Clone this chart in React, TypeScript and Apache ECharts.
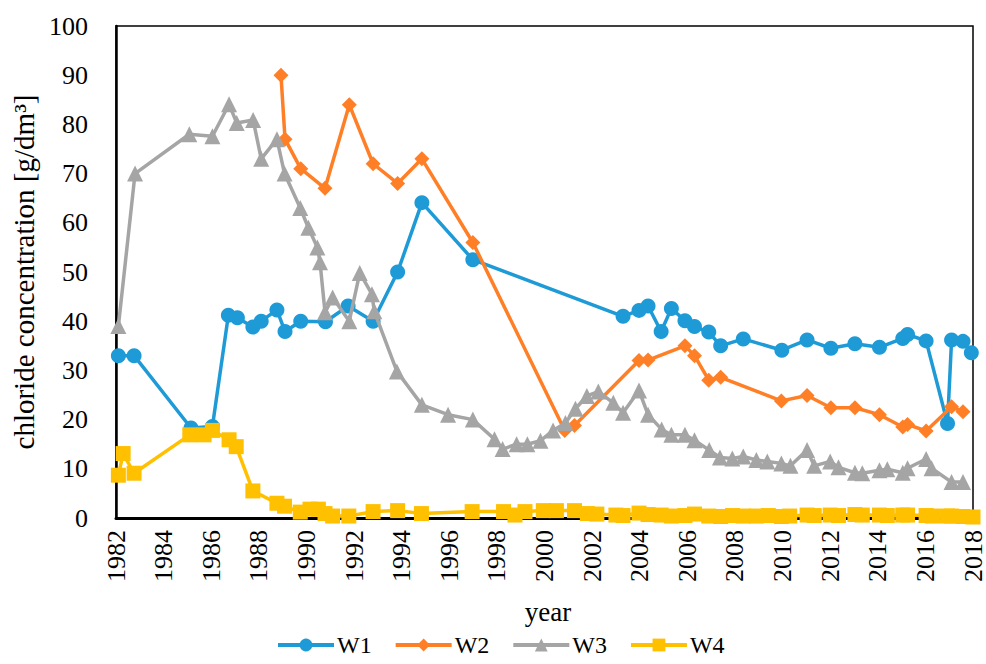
import React, { useEffect, useRef } from "react";
import * as echarts from "echarts";

const w1Years = [1982.1, 1982.76, 1985.15, 1986.05, 1986.72, 1987.1, 1987.75, 1988.1, 1988.76, 1989.1, 1989.76, 1990.8, 1991.75, 1992.8, 1993.83, 1994.85, 1996.99, 2003.3, 2003.97, 2004.35, 2004.9, 2005.33, 2005.9, 2006.3, 2006.9, 2007.4, 2008.35, 2009.97, 2011.03, 2012.03, 2013.04, 2014.07, 2015.05, 2015.25, 2016.03, 2016.93, 2017.1, 2017.58, 2017.93];
const w1Values = [33, 33, 18.3, 18.6, 41.2, 40.7, 38.8, 40, 42.3, 37.9, 40, 39.9, 43.1, 40, 50, 64.1, 52.5, 41, 42.2, 43.1, 37.9, 42.6, 40.1, 38.9, 37.8, 35, 36.4, 34.1, 36.2, 34.5, 35.4, 34.7, 36.5, 37.3, 36, 19.2, 36.2, 35.9, 33.6];

const w2Years = [1988.93, 1989.1, 1989.76, 1990.78, 1991.8, 1992.8, 1993.83, 1994.85, 1996.99, 2000.85, 2001.26, 2003.97, 2004.35, 2005.9, 2006.3, 2006.9, 2007.4, 2009.95, 2011.03, 2012.03, 2013.04, 2014.07, 2015.05, 2015.25, 2016.03, 2017.1, 2017.58];
const w2Values = [90, 77, 71, 67, 84, 72, 68, 73, 56, 17.8, 18.8, 32, 32.1, 35, 33, 28, 28.6, 23.8, 24.9, 22.4, 22.4, 21, 18.5, 19, 17.7, 22.6, 21.6];

const w3Years = [1982.1, 1982.8, 1985.08, 1986.05, 1986.75, 1987.07, 1987.76, 1988.1, 1988.76, 1989.08, 1989.74, 1990.08, 1990.46, 1990.57, 1990.78, 1991.1, 1991.8, 1992.24, 1992.75, 1992.85, 1993.8, 1994.85, 1995.95, 1996.99, 1997.9, 1998.24, 1998.83, 1999.28, 1999.83, 2000.36, 2000.88, 2001.3, 2001.78, 2002.26, 2002.89, 2003.3, 2003.97, 2004.35, 2004.92, 2005.33, 2005.9, 2006.3, 2006.92, 2007.37, 2007.89, 2008.35, 2008.9, 2009.36, 2009.95, 2010.33, 2011.03, 2011.33, 2012.0, 2012.35, 2013.04, 2013.35, 2014.07, 2014.4, 2015.05, 2015.25, 2016.03, 2016.26, 2017.1, 2017.58];
const w3Values = [39, 70, 78, 77.6, 84.1, 80.3, 80.9, 73, 77, 70, 63, 59, 55, 52, 41.8, 44.8, 40, 49.8, 45.5, 42, 29.8, 23, 21, 20, 16, 14, 15, 15, 15.7, 17.8, 19.3, 22.2, 24.8, 25.7, 23.4, 21.4, 25.9, 21, 18, 16.9, 16.9, 15.8, 13.8, 12.3, 12.1, 12.5, 11.8, 11.5, 11.1, 10.6, 13.8, 10.6, 11.5, 10.3, 9.2, 9.1, 9.7, 9.9, 9.2, 10.1, 12, 10.1, 7.3, 7.3];

const w4Years = [1982.1, 1982.3, 1982.76, 1985.1, 1985.7, 1986.05, 1986.75, 1987.05, 1987.75, 1988.76, 1989.08, 1989.74, 1990.15, 1990.5, 1990.78, 1991.1, 1991.78, 1992.8, 1993.83, 1994.83, 1996.96, 1998.28, 1998.76, 1999.18, 1999.95, 2000.5, 2001.26, 2001.8, 2002.2, 2003.0, 2003.3, 2003.97, 2004.35, 2004.9, 2005.33, 2005.9, 2006.3, 2006.9, 2007.4, 2007.9, 2008.35, 2008.9, 2009.4, 2009.95, 2010.3, 2011.03, 2011.33, 2012.0, 2012.35, 2013.04, 2013.35, 2014.07, 2014.4, 2015.05, 2015.25, 2016.03, 2016.3, 2016.93, 2017.1, 2017.58, 2018.0];
const w4Values = [8.7, 13.1, 9.1, 16.9, 16.9, 17.8, 15.9, 14.5, 5.5, 3, 2.4, 1.2, 1.8, 1.8, 0.9, 0.4, 0.4, 1.3, 1.5, 0.9, 1.3, 1.3, 0.6, 1.3, 1.5, 1.5, 1.5, 0.9, 0.8, 0.6, 0.5, 1.0, 0.7, 0.6, 0.4, 0.5, 0.8, 0.4, 0.3, 0.5, 0.4, 0.4, 0.5, 0.3, 0.4, 0.6, 0.5, 0.6, 0.5, 0.7, 0.6, 0.6, 0.5, 0.6, 0.6, 0.5, 0.4, 0.4, 0.4, 0.3, 0.2];

const yearTicks = { min: 1982, max: 2018, interval: 2 };
const valueTicks = { min: 0, max: 100, interval: 10 };

const seriesNames = ["W1", "W2", "W3", "W4"];
const seriesColors = ["#1E9BD7", "#FF7F27", "#A5A5A5", "#FFC000"];
const seriesSymbols = ["circle", "diamond", "triangle", "rect"];
const seriesSymbolSizes = [15, 15, 16, 15];

const FONT = "'Liberation Serif', 'Times New Roman', serif";

function pairs(xs: number[], ys: number[]) {
  return xs.map((x, i) => [x, ys[i]]);
}

export default function App() {
  const ref = useRef<HTMLDivElement>(null);
  useEffect(() => {
    if (!ref.current) return;
    const chart = echarts.init(ref.current, undefined, { renderer: "svg" });
    const datasets = [
      pairs(w1Years, w1Values),
      pairs(w2Years, w2Values),
      pairs(w3Years, w3Values),
      pairs(w4Years, w4Values),
    ];
    chart.setOption({
      animation: false,
      backgroundColor: "#ffffff",
      grid: {
        left: 116,
        top: 26,
        width: 864,
        height: 492,
        show: true,
        borderColor: "#000",
        borderWidth: 1.5,
        containLabel: false,
      },
      legend: {
        left: 276,
        top: 633,
        padding: 0,
        itemWidth: 56,
        itemHeight: 16,
        itemGap: 22,
        lineStyle: { width: 4 },
        textStyle: { fontFamily: FONT, fontSize: 24, color: "#000", padding: [0, 0, 0, -2] },
        data: seriesNames,
      },
      xAxis: {
        type: "value",
        min: yearTicks.min,
        max: yearTicks.max,
        interval: yearTicks.interval,
        splitLine: { show: false },
        axisTick: { show: false },
        axisLine: { show: true, lineStyle: { color: "#000", width: 3 } },
        axisLabel: {
          rotate: 90,
          margin: 12,
          fontFamily: FONT,
          fontSize: 26,
          color: "#000",
          formatter: (v: number) => String(v),
        },
      },
      yAxis: {
        type: "value",
        min: valueTicks.min,
        max: valueTicks.max,
        interval: valueTicks.interval,
        splitLine: { show: false },
        axisTick: { show: false },
        axisLine: { show: true, lineStyle: { color: "#000", width: 2.5 } },
        axisLabel: {
          margin: 28,
          fontFamily: FONT,
          fontSize: 26,
          color: "#000",
        },
      },
      graphic: [
        {
          type: "text",
          x: 548,
          y: 612,
          style: {
            text: "year",
            fontFamily: FONT,
            fontSize: 27,
            fill: "#000",
            align: "center",
            verticalAlign: "middle",
          },
        },
        {
          type: "text",
          x: 24,
          y: 272,
          rotation: Math.PI / 2,
          style: {
            text: "chloride concentration [g/dm³]",
            fontFamily: FONT,
            fontSize: 29,
            fill: "#000",
            align: "center",
            verticalAlign: "middle",
          },
        },
      ],
      series: seriesNames.map((name, i) => ({
        name,
        type: "line",
        data: datasets[i],
        symbol: seriesSymbols[i],
        symbolSize: seriesSymbolSizes[i],
        showSymbol: true,
        clip: false,
        z: 2 + i,
        lineStyle: { color: seriesColors[i], width: 3.5 },
        itemStyle: { color: seriesColors[i], borderWidth: 0 },
        emphasis: { disabled: true },
      })),
    });
    return () => chart.dispose();
  }, []);
  return <div ref={ref} style={{ width: 986, height: 664, position: "absolute", left: 0, top: 0 }} />;
}
